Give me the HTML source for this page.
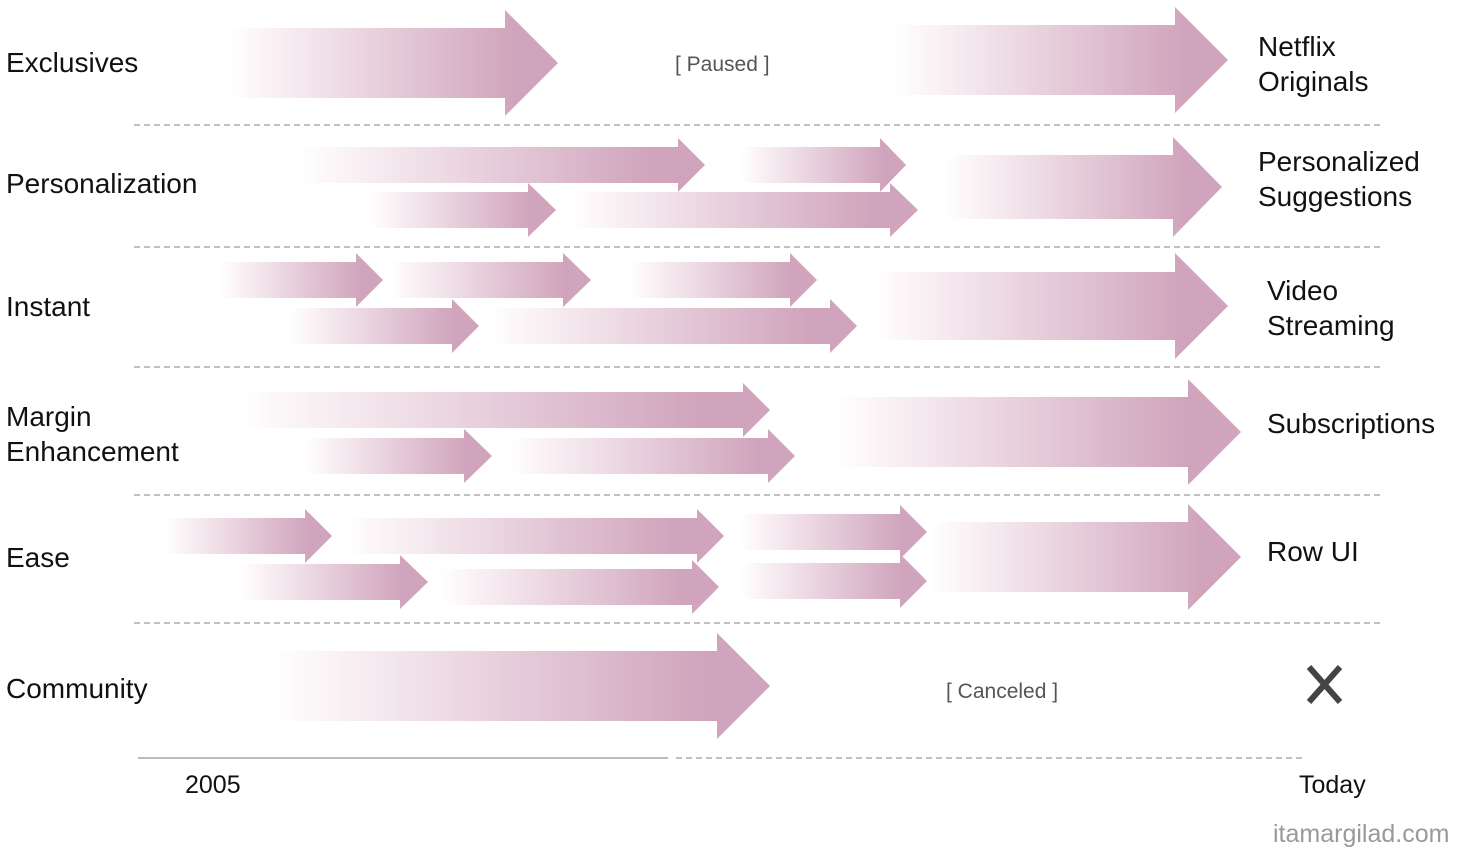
<!DOCTYPE html>
<html><head><meta charset="utf-8"><style>
html,body{margin:0;padding:0;background:#fff;}
body{width:1457px;height:848px;overflow:hidden;position:relative;font-family:"Liberation Sans",sans-serif;}
svg{position:absolute;left:0;top:0;}
.t{font-family:"Liberation Sans",sans-serif;font-size:28px;fill:#111;}
.s{font-family:"Liberation Sans",sans-serif;font-size:21px;fill:#555;}
</style></head><body>
<svg id="g" width="1457" height="848" xmlns="http://www.w3.org/2000/svg">
<defs>
<linearGradient id="gr" x1="0" y1="0" x2="1" y2="0">
<stop offset="0" stop-color="#ffffff"/>
<stop offset="0.1" stop-color="#fbf4f7"/>
<stop offset="0.87" stop-color="#d0a4bc"/>
</linearGradient>
</defs>
<g stroke="#aaa" stroke-width="1.5" stroke-dasharray="6,4">
<line x1="134" y1="125" x2="1384" y2="125"/>
<line x1="134" y1="247" x2="1384" y2="247"/>
<line x1="134" y1="367" x2="1384" y2="367"/>
<line x1="134" y1="495" x2="1384" y2="495"/>
<line x1="134" y1="623" x2="1384" y2="623"/>
<line x1="676" y1="758" x2="1306" y2="758"/>
</g>
<line x1="138" y1="758" x2="668" y2="758" stroke="#bbb" stroke-width="2"/>
<g id="arr"></g>
<path d="M1309 667 L1340 702 M1340 667 L1309 702" stroke="#444" stroke-width="6"/>
<text class="t" x="6" y="72">Exclusives</text>
<text class="t" x="6" y="193">Personalization</text>
<text class="t" x="6" y="316">Instant</text>
<text class="t" x="6" y="426">Margin</text>
<text class="t" x="6" y="461">Enhancement</text>
<text class="t" x="6" y="567">Ease</text>
<text class="t" x="6" y="698">Community</text>
<text class="t" x="1258" y="56">Netflix</text>
<text class="t" x="1258" y="91">Originals</text>
<text class="t" x="1258" y="171">Personalized</text>
<text class="t" x="1258" y="206">Suggestions</text>
<text class="t" x="1267" y="300">Video</text>
<text class="t" x="1267" y="335">Streaming</text>
<text class="t" x="1267" y="433">Subscriptions</text>
<text class="t" x="1267" y="561">Row UI</text>
<text class="s" x="675" y="71">[ Paused ]</text>
<text class="s" x="946" y="698">[ Canceled ]</text>
<text class="t" x="185" y="793" style="font-size:25px">2005</text>
<text class="t" x="1299" y="793" style="font-size:25px">Today</text>
<text class="t" x="1273" y="842" style="font-size:25px;fill:#999">itamargilad.com</text>
</svg>
<script>
var A=[
[230,505,558,63,35,53],[895,1175,1228,60,35,53],
[945,1173,1222,187,32,50],[300,678,705,165,18,27],[740,880,906,165,18,27],[370,528,556,210,18,27],[570,890,918,210,18,27],
[220,356,383,280,18,27],[390,563,591,280,18,27],[630,790,817,280,18,27],[290,452,479,326,18,27],[490,830,857,326,18,27],[875,1175,1228,306,34,53],
[240,743,770,410,18,27],[305,464,492,456,18,27],[510,768,795,456,18,27],[835,1188,1241,432,35,53],
[165,305,332,536,18,27],[345,697,724,536,18,27],[740,900,927,532,18,27],[240,400,428,582,18,27],[440,692,719,587,18,27],[740,900,927,581,18,27],[930,1188,1241,557,35,53],
[275,717,770,686,35,53]];
var s='';
A.forEach(function(a){var x0=a[0],x1=a[1],t=a[2],c=a[3],h=a[4],H=a[5];
s+='<polygon fill="url(#gr)" points="'+x0+','+(c-h)+' '+x1+','+(c-h)+' '+x1+','+(c-H)+' '+t+','+c+' '+x1+','+(c+H)+' '+x1+','+(c+h)+' '+x0+','+(c+h)+'"/>';});
document.getElementById('arr').innerHTML=s;
</script>
</body></html>
